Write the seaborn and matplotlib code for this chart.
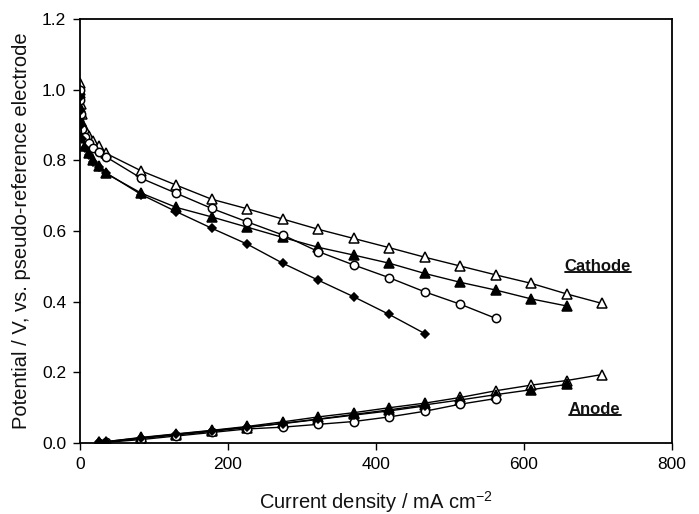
import numpy as np
import pandas as pd
import seaborn as sns
import matplotlib.pyplot as plt

# current density points (mA cm-2)
x_cat = [0, 0, 1, 3, 7, 12, 18, 25, 35, 83, 130, 178, 226, 274, 322, 370, 418,
         466, 514, 562, 610, 658, 706]
x_an = [25, 35, 83, 130, 178, 226, 274, 322, 370, 418, 466, 514, 562, 610, 658, 706]

# cathode potentials
cat_open_tri = [1.02, 1.00, 0.96, 0.93, 0.89, 0.87, 0.855, 0.84, 0.82, 0.770, 0.730,
                0.690, 0.663, 0.634, 0.605, 0.579, 0.553, 0.526, 0.501, 0.476,
                0.452, 0.422, 0.395]
cat_fill_tri = [0.99, 0.95, 0.91, 0.87, 0.84, 0.82, 0.80, 0.785, 0.763, 0.707, 0.667,
                0.640, 0.611, 0.582, 0.554, 0.532, 0.509, 0.480, 0.455, 0.433,
                0.408, 0.388]
cat_open_circ = [1.00, 0.97, 0.93, 0.89, 0.865, 0.85, 0.835, 0.825, 0.81, 0.749,
                 0.707, 0.664, 0.626, 0.589, 0.542, 0.504, 0.468, 0.428, 0.393, 0.353]
cat_diamond = [0.98, 0.94, 0.90, 0.86, 0.835, 0.815, 0.795, 0.78, 0.765, 0.703,
               0.655, 0.608, 0.563, 0.509, 0.461, 0.414, 0.364, 0.310]

# anode potentials
an_open_tri = [0.003, 0.004, 0.016, 0.026, 0.036, 0.047, 0.060, 0.074, 0.086, 0.100,
               0.113, 0.129, 0.148, 0.164, 0.177, 0.194]
an_fill_tri = [0.002, 0.003, 0.013, 0.023, 0.033, 0.044, 0.056, 0.068, 0.081, 0.094,
               0.108, 0.122, 0.137, 0.151, 0.166]
an_open_circ = [0.000, 0.002, 0.010, 0.020, 0.030, 0.040, 0.045, 0.053, 0.061, 0.074,
                0.090, 0.110, 0.126]
an_diamond = [0.002, 0.004, 0.015, 0.025, 0.035, 0.045, 0.055, 0.067, 0.079, 0.091,
              0.105]

sns.set_style('white')
plt.rcParams['font.family'] = ['Liberation Sans', 'DejaVu Sans']
plt.rcParams['text.color'] = '#111111'
plt.rcParams['axes.labelcolor'] = '#111111'
plt.rcParams['mathtext.fontset'] = 'custom'
plt.rcParams['mathtext.rm'] = 'Liberation Sans'

fig, ax = plt.subplots(figsize=(6.99, 5.14), dpi=100)
fig.subplots_adjust(left=0.1145, right=0.961, top=0.963, bottom=0.138)

styles = {
    'open_tri': dict(marker='^', markersize=6.5, markerfacecolor='white'),
    'fill_tri': dict(marker='^', markersize=6.5, markerfacecolor='black'),
    'open_circ': dict(marker='o', markersize=6, markerfacecolor='white'),
    'diamond': dict(marker='D', markersize=4.5, markerfacecolor='black'),
}

series = [
    (x_cat, cat_open_tri, 'open_tri'),
    (x_cat, cat_fill_tri, 'fill_tri'),
    (x_cat, cat_open_circ, 'open_circ'),
    (x_cat, cat_diamond, 'diamond'),
    (x_an, an_open_tri, 'open_tri'),
    (x_an, an_fill_tri, 'fill_tri'),
    (x_an, an_open_circ, 'open_circ'),
    (x_an, an_diamond, 'diamond'),
]

for xs, ys, key in series:
    df = pd.DataFrame({'x': xs[:len(ys)], 'y': ys})
    sns.lineplot(data=df, x='x', y='y', ax=ax, estimator=None, sort=False,
                 color='black', linewidth=1.0, markeredgecolor='black',
                 markeredgewidth=1.1, **styles[key])

ax.set_xlim(0, 800)
ax.set_ylim(0, 1.2)
ax.set_xticks(np.arange(0, 801, 200))
ax.set_yticks(np.arange(0, 1.21, 0.2))
ax.set_yticklabels([f'{v:.1f}' for v in np.arange(0, 1.21, 0.2)])
ax.tick_params(direction='out', length=5, width=1, colors='black',
               labelsize=12.5, left=True, bottom=True, pad=5)
for sp in ax.spines.values():
    sp.set_color('black')
    sp.set_linewidth(1.3)

ax.set_xlabel(r'Current density / mA cm$^{\mathregular{-2}}$', fontsize=14.5,
              labelpad=12)
ax.set_ylabel('Potential / V, vs. pseudo-reference electrode', fontsize=14.5,
              labelpad=8)

labels = []
labels.append(ax.text(700, 0.50, 'Cathode', fontsize=12, fontweight='bold',
                      ha='center', va='center'))
labels.append(ax.text(696, 0.095, 'Anode', fontsize=12, fontweight='bold',
                      ha='center', va='center'))

# underline the labels
fig.canvas.draw()
inv = ax.transData.inverted()
for t in labels:
    bb = t.get_window_extent()
    (x0, y0), (x1, _) = inv.transform([(bb.x0, bb.y0 + 2), (bb.x1, bb.y1)])
    ax.plot([x0, x1], [y0, y0], color='black', linewidth=1.3)

fig.savefig('out.png', dpi=100)
